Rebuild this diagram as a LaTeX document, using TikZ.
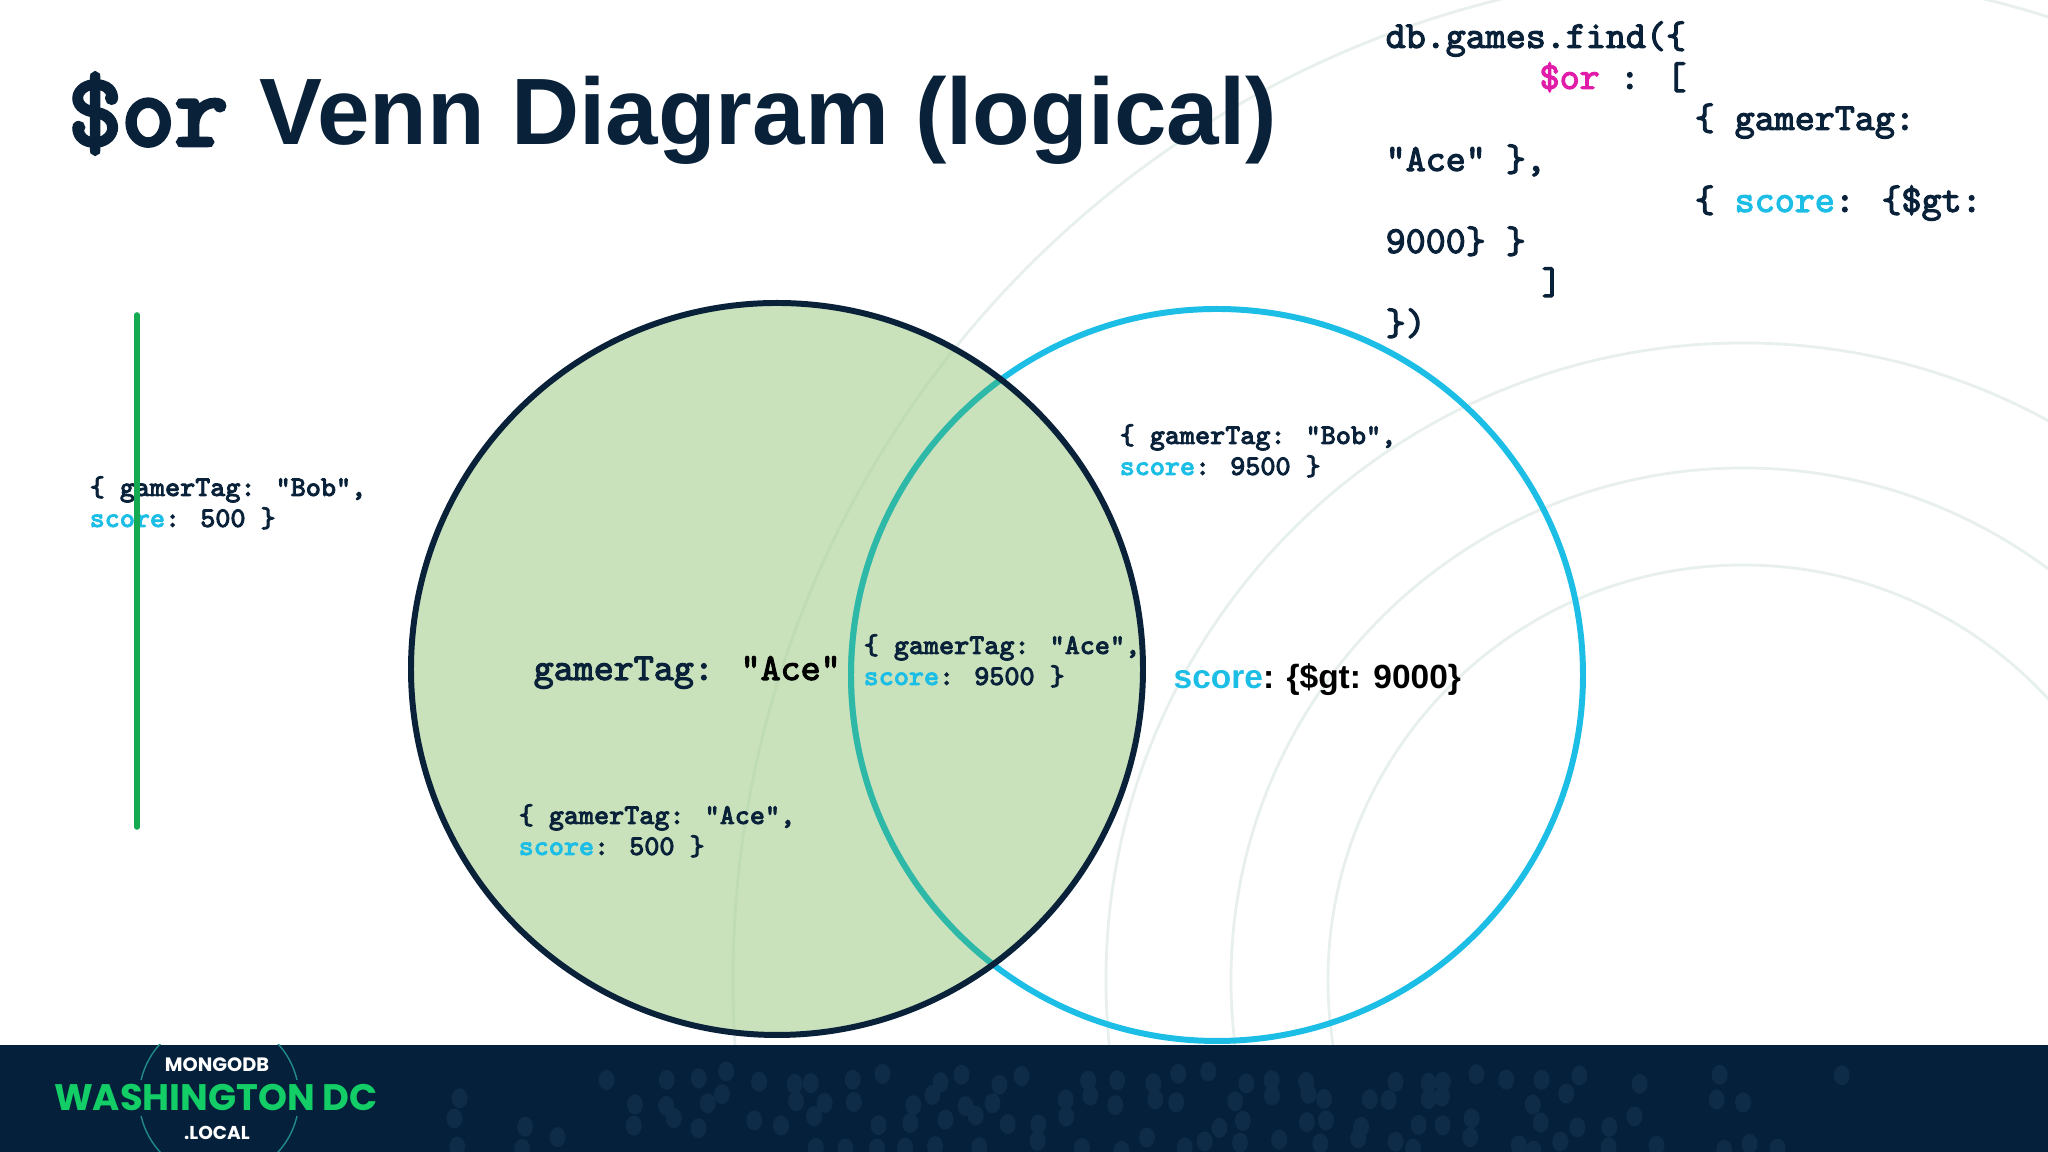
\documentclass[tikz,border=0pt]{standalone}
\usepackage{fontspec}
\setmainfont{Liberation Sans}
\newfontfamily\logofont{Poppins}
\newfontfamily\codefont{Latin Modern Mono}[FakeBold=3]
\newfontfamily\titlefont{Latin Modern Mono}[FakeBold=4.5]
\definecolor{navyink}{HTML}{0A2239}
\definecolor{footnavy}{HTML}{05203A}
\definecolor{footdot}{HTML}{0E2C47}
\definecolor{scorecyan}{HTML}{1CBEE6}
\definecolor{orpink}{HTML}{E01CA8}
\definecolor{barlgreen}{HTML}{13AA52}
\definecolor{logogreen}{HTML}{13CE66}
\definecolor{venngreen}{HTML}{A5CF8E}
\definecolor{overlapteal}{HTML}{2DB8A8}
\definecolor{ringgrey}{HTML}{E8F0EE}
\newcommand{\scorekey}{\textcolor{scorecyan}{score}}
\tikzset{
  doctext/.style={anchor=base west,inner sep=0pt,align=left,text=navyink,
    font=\codefont\fontsize{8.08}{8.82}\selectfont},
  codetext/.style={anchor=base west,inner sep=0pt,align=left,text=navyink,
    font=\codefont\fontsize{10.85}{11.67}\selectfont},
  logotext/.style={inner sep=0pt,font=\logofont\bfseries},
  bgring/.style={draw=ringgrey,line width=0.8pt}
}
\begin{document}
\begin{tikzpicture}
\useasboundingbox (0,0) rectangle (20.48,11.52);
\fill[white] (0,0) rectangle (20.48,11.52); % page
\draw[bgring] (17.43,1.72) circle (4.15) ; % ring.0
\draw[bgring] (17.43,1.72) circle (5.12) ; % ring.1
\draw[bgring] (17.43,1.72) circle (6.37) ; % ring.2
\begin{scope}
\clip (0,0) rectangle (20.48,11.52);
\draw[bgring] (17.43,1.72) circle (10.10) ; % ring.3
\end{scope}
\draw[scorecyan,line width=1.7pt] (12.17,4.77) circle (3.66) ; % score set
\fill[venngreen,fill opacity=0.6] (7.77,4.83) circle (3.66) ; % gamerTag set
\begin{scope}
\clip (7.77,4.83) circle (3.66);
\draw[overlapteal,line width=1.7pt] (12.17,4.77) circle (3.66) ; % overlap
\end{scope}
\draw[navyink,line width=1.7pt] (7.77,4.83) circle (3.66) ; % gamerTag set
% title
\node[anchor=base west,inner sep=0pt,text=navyink,font=\titlefont\fontsize{29.3}{30}\selectfont] (titleop) at (0.68,10.07) {\$or};
\node[anchor=base west,inner sep=0pt,text=navyink,font=\bfseries\fontsize{26.85}{30}\selectfont] (titletext) at (2.59,10.07) {Venn Diagram (logical)};
% query
\node[codetext] (query) at (13.85,8.17) {db.games.find(\{\\
\hspace*{1.54cm}\textcolor{orpink}{\$or} : [\\
\hspace*{3.09cm}\{ gamerTag:\\
"Ace" \},\\
\hspace*{3.09cm}\{ \scorekey: \{\$gt:\\
9000\} \}\\
\hspace*{1.56cm}]\\
\})};
% documents
\node[doctext] (docbob) at (0.89,6.25) {\{ gamerTag: "Bob",\\\scorekey: 500 \}};
\node[doctext] (docbobhigh) at (11.19,6.77) {\{ gamerTag: "Bob",\\\scorekey: 9500 \}};
\node[doctext] (docacehigh) at (8.63,4.67) {\{ gamerTag: "Ace",\\\scorekey: 9500 \}};
\node[doctext] (docace) at (5.18,2.97) {\{ gamerTag: "Ace",\\\scorekey: 500 \}};
% set labels
\node[codetext] (gamerlabel) at (5.33,4.72) {gamerTag: \textcolor{black}{"Ace"}};
\node[anchor=base west,inner sep=0pt,text=black,font=\bfseries\fontsize{9.53}{12}\selectfont] (scorelabel) at (11.73,4.63) {\scorekey: \{\$gt: 9000\}};
\draw[barlgreen,line width=1.6pt,line cap=round] (1.37,8.37) -- (1.37,3.25) ; % bar
% footer
\fill[footnavy] (0,0) rectangle (20.48,1.07);
\begin{scope}
\clip (0,0) rectangle (20.48,1.07);
\pgfmathsetseed{47}
\foreach \dotcol in {4.6,4.9,...,18.6} {
  \foreach \dotrow in {0.08,0.3,...,0.9} {
    \pgfmathsetmacro{\dotx}{\dotcol+0.1*rand}
    \pgfmathsetmacro{\doty}{\dotrow+0.07*rand}
    \pgfmathsetmacro{\dotkeep}{rnd<(\dotcol<6.2?0.35:(\dotcol<16.2?0.7:(\dotcol<17.5?0.4:0.1)))?1:0}
    \ifdim\dotkeep pt>0.5pt
      \fill[footdot] (\dotx,\doty) ellipse (0.08 and 0.1) ;
    \fi
  }
}
% logo
\draw[overlapteal!70!footnavy,line width=0.4pt] (2.97,0.72) arc(13:167:0.8) ; % logo ring
\draw[overlapteal!70!footnavy,line width=0.4pt] (2.97,0.36) arc(-13:-167:0.8) ; % logo ring
\end{scope}
\node[logotext,text=white,font=\logofont\bfseries\fontsize{5.5}{6}\selectfont] (logotop) at (2.17,0.87) {MONGODB};
\node[logotext,text=logogreen,font=\logofont\bfseries\fontsize{10.5}{12}\selectfont] (logomid) at (2.16,0.54) {WASHINGTON DC};
\node[logotext,text=white,font=\logofont\bfseries\fontsize{5.3}{6}\selectfont] (logobot) at (2.17,0.19) {.LOCAL};
\end{tikzpicture}
\end{document}
